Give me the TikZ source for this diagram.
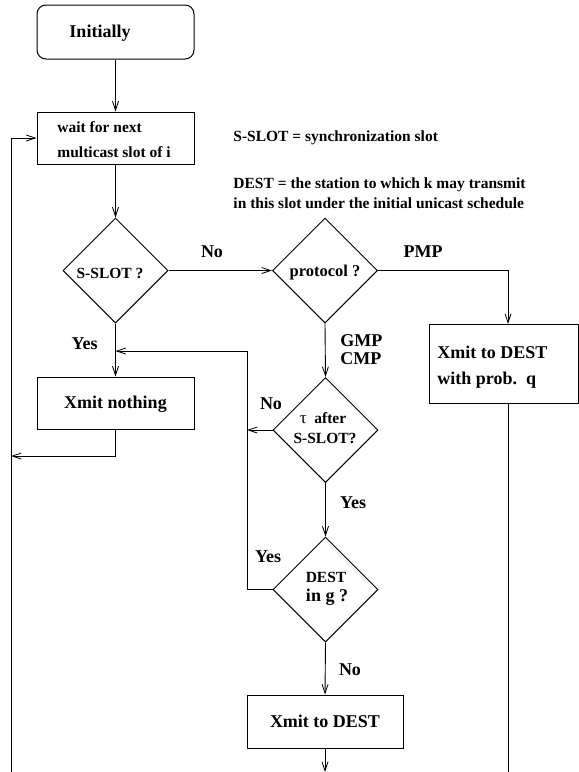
\documentclass[tikz,border=0pt]{standalone}
\usepackage{fontspec}
\setmainfont{Liberation Serif}
\usetikzlibrary{shapes.geometric,arrows.meta}
\begin{document}
\begin{tikzpicture}[x=1pt,y=-1pt,
  line width=0.9pt,
  arr/.style={-{Straight Barb[length=9pt,width=6pt,line width=0.8pt]}},
  box/.style={draw, rectangle, inner sep=0pt, line width=1pt},
  decision/.style={draw, diamond, shape aspect=1, minimum width=105pt,
    minimum height=105pt, inner sep=0pt, line width=1pt},
  big/.style={font=\fontsize{18}{21}\selectfont\bfseries, inner sep=0pt},
  small/.style={font=\fontsize{15.5}{18}\selectfont\bfseries, inner sep=0pt},
]
\useasboundingbox (0,0) rectangle (579,772);

% ---- boxes and decisions
\node[box, rounded corners=9pt, minimum width=157pt, minimum height=54pt] (init) at (115.5,32) {};
\node[box, minimum width=157pt, minimum height=52pt] (wait) at (115.5,138) {};
\node[decision] (sslot) at (115.5,270.5) {};
\node[decision] (proto) at (325,270.5) {};
\node[box, minimum width=157pt, minimum height=52pt] (xnothing) at (115.5,403) {};
\node[box, minimum width=149pt, minimum height=79pt] (probbox) at (503.5,363.5) {};
\node[decision] (tau) at (325.5,430) {};
\node[decision] (dest) at (325.5,589.5) {};
\node[box, minimum width=156pt, minimum height=53pt] (xdest) at (325,721.5) {};

% ---- texts inside the shapes
\node[big] (tInit) at (100,33) {Initially};
\node[small, anchor=west] (tWait1) at (57,127) {wait for next};
\node[small, anchor=west] (tWait2) at (57,152) {multicast slot of i};
\node[small] (tSslot) at (110,273) {S-SLOT ?};
\node[small, font=\fontsize{16.5}{19}\selectfont\bfseries] (tProto) at (325,273) {protocol ?};
\node[big] (tNothing) at (115.5,404) {Xmit nothing};
\node[big, anchor=west] (tProb1) at (437,352) {Xmit to DEST};
\node[big, anchor=west] (tProb2) at (437,380) {with prob.\ \ q};
\node[small] (tTau1) at (323,418) {{\fontsize{17}{18}\selectfont\mdseries τ}\ \ after};
\node[small] (tTau2) at (325,438) {S-SLOT?};
\node[small] (tDest1) at (326,577) {DEST};
\node[big] (tDest2) at (327,597) {in g ?};
\node[big] (tXdest) at (325,721.5) {Xmit to DEST};

% ---- legend
\node[small, anchor=west] (note1) at (233,138) {S-SLOT = synchronization slot};
\node[small, anchor=west] (note2) at (233,185) {DEST = the station to which k may transmit};
\node[small, anchor=west] (note3) at (233,203) {in this slot under the initial unicast schedule};

% ---- branch labels
\node[big] (lNo1) at (212,252) {No};
\node[big] (lPMP) at (423,252) {PMP};
\node[big] (lYes1) at (84.5,344) {Yes};
\node[big, anchor=west] (lGMP) at (340,341) {GMP};
\node[big, anchor=west] (lCMP) at (340,359) {CMP};
\node[big] (lNo2) at (271,404) {No};
\node[big] (lYes2) at (353,503) {Yes};
\node[big] (lYes3) at (268,557) {Yes};
\node[big] (lNo3) at (350,670) {No};

% ---- helper points
\coordinate (yesjoin) at (115.5,351);
\coordinate (rail) at (247,589.5);
\coordinate (leftfoot) at (11,772);
\coordinate (backin) at (11,456);
\coordinate (pmpdrop) at (508,324);
\coordinate (rightfoot) at (508,772);
\coordinate (xdestout) at (325,772);

% ---- connectors
\draw[arr] (init.south) -- (wait.north);
\draw[arr] (wait.south) -- (sslot.north);
\draw[arr] (sslot.east) -- (proto.west);
\draw[arr] (proto.east) -| (pmpdrop);
\draw (pmpdrop |- probbox.south) -- (rightfoot);
\draw[arr] (proto.south) -- (tau.north);
\draw[arr] (tau.south) -- (dest.north);
\draw[arr] (dest.south) -- (xdest.north);
\draw[arr] (xdest.south) -- (xdestout);
\draw[arr] (sslot.south) -- (xnothing.north);
\draw[arr] (dest.west) -- (rail) |- (yesjoin);
\draw[arr] (tau.west) -- (tau.west -| rail);
\draw[arr] (xnothing.south) |- (backin);
\draw[arr] (leftfoot) |- (wait.west);
\end{tikzpicture}
\end{document}
